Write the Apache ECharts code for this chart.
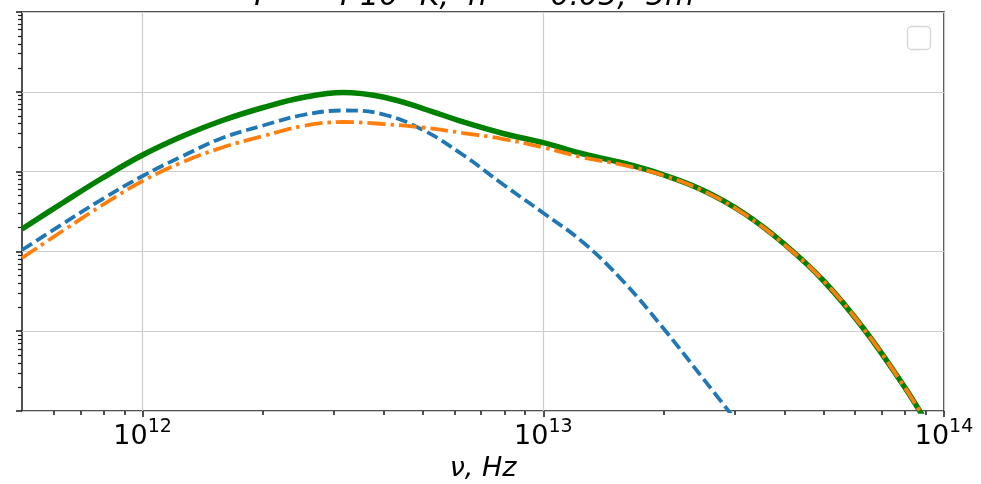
<!DOCTYPE html>
<html>
<head>
<meta charset="utf-8">
<script src="https://cdn.jsdelivr.net/npm/echarts@6/dist/echarts.min.js"></script>
<style>
  html, body { margin: 0; padding: 0; background: #fff; }
  #chart { width: 981px; height: 484px; }
</style>
</head>
<body>
<div id="chart"></div>
<script>
// Frequency grid, Hz
const nu = [5.0e11, 6.31e11, 7.94e11, 1.0e12, 1.26e12, 1.58e12, 2.0e12, 2.51e12,
            3.16e12, 3.98e12, 5.01e12, 6.31e12, 7.94e12, 1.0e13, 1.26e13, 1.58e13,
            2.0e13, 2.51e13, 3.16e13, 3.98e13, 5.01e13, 6.31e13, 7.94e13, 8.91e13];

// Total spectrum (solid green)
const totalFlux = [1.909e-3, 4.043e-3, 8.314e-3, 1.614e-2, 2.793e-2, 4.369e-2, 6.358e-2, 8.483e-2,
                   9.80e-2, 8.605e-2, 6.176e-2, 4.184e-2, 3.002e-2, 2.302e-2, 1.662e-2, 1.282e-2,
                   9.066e-3, 5.798e-3, 3.028e-3, 1.256e-3, 4.257e-4, 1.066e-4, 2.057e-5, 8.17e-6];

// Cold component (dashed blue), first 19 frequencies
const coldFlux = [1.041e-3, 2.205e-3, 4.535e-3, 8.809e-3, 1.568e-2, 2.637e-2, 3.781e-2, 5.121e-2,
                  5.831e-2, 5.224e-2, 3.321e-2, 1.614e-2, 6.891e-3, 3.028e-3, 1.285e-3, 4.257e-4,
                  1.066e-4, 2.518e-5, 5.780e-6];

// Warm component (dash-dot orange)
const warmFlux = [8.267e-4, 1.801e-3, 3.814e-3, 7.624e-3, 1.319e-2, 2.005e-2, 2.793e-2, 3.727e-2,
                  4.184e-2, 3.949e-2, 3.569e-2, 3.045e-2, 2.561e-2, 2.005e-2, 1.502e-2, 1.210e-2,
                  8.935e-3, 5.714e-3, 2.985e-3, 1.238e-3, 4.257e-4, 1.066e-4, 2.057e-5, 8.17e-6];

// Axis ticks
const xMajorTicks = [1e12, 1e13, 1e14];
const xMinorTicks = [6e11, 7e11, 8e11, 9e11,
                     2e12, 3e12, 4e12, 5e12, 6e12, 7e12, 8e12, 9e12,
                     2e13, 3e13, 4e13, 5e13, 6e13, 7e13, 8e13, 9e13];
const yMajorTicks = [1e-5, 1e-4, 1e-3, 1e-2, 1e-1, 1];
const yMinorTicks = [];
yMajorTicks.slice(0, -1).forEach(d => {
  [2, 3, 4, 5, 6, 7, 8, 9].forEach(m => yMinorTicks.push(+(m * d).toPrecision(3)));
});

const pairs = (xs, ys) => ys.map((v, i) => [xs[i], v]);

const FONT = 'DejaVu Sans';
const GRID_COLOR = '#cdcdcd';
const INK = '#1a1a1a';

const chart = echarts.init(document.getElementById('chart'), null, { renderer: 'canvas' });

chart.setOption({
  animation: false,
  backgroundColor: '#ffffff',
  grid: {
    left: 22, top: 12, width: 922, height: 399,
    outerBoundsMode: 'none', containLabel: false,
    show: true, borderColor: INK, borderWidth: 1.5, backgroundColor: 'transparent'
  },
  xAxis: [
    {
      type: 'log', logBase: 10, min: 5e11, max: 1e14,
      axisLine: { show: false },
      axisTick: { show: true, customValues: xMajorTicks, length: 6, lineStyle: { color: INK, width: 1.5 } },
      axisLabel: {
        customValues: xMajorTicks, margin: 7,
        formatter: v => '{b|10}{s|' + Math.round(Math.log10(v)) + '}',
        rich: {
          b: { fontFamily: FONT, fontSize: 27, color: '#000', lineHeight: 32, verticalAlign: 'bottom' },
          s: { fontFamily: FONT, fontSize: 19, color: '#000', lineHeight: 19, verticalAlign: 'top' }
        }
      },
      splitLine: { show: true, lineStyle: { color: GRID_COLOR, width: 1.2 } },
      name: 'ν, Hz', nameLocation: 'middle', nameGap: 44,
      nameTextStyle: { fontFamily: FONT, fontStyle: 'italic', fontSize: 27, color: '#000' }
    },
    {
      type: 'log', logBase: 10, min: 5e11, max: 1e14, position: 'bottom',
      axisLine: { show: false },
      axisTick: { show: true, customValues: xMinorTicks, length: 4, lineStyle: { color: INK, width: 1.5 } },
      axisLabel: { show: false },
      splitLine: { show: false }
    }
  ],
  yAxis: [
    {
      type: 'log', logBase: 10, min: 1e-5, max: 1,
      axisLine: { show: false },
      axisTick: { show: true, customValues: yMajorTicks, length: 6, lineStyle: { color: INK, width: 1.5 } },
      axisLabel: { show: false },
      splitLine: { show: true, lineStyle: { color: GRID_COLOR, width: 1.2 } }
    },
    {
      type: 'log', logBase: 10, min: 1e-5, max: 1, position: 'left',
      axisLine: { show: false },
      axisTick: { show: true, customValues: yMinorTicks, length: 4, lineStyle: { color: INK, width: 1.2 } },
      axisLabel: { show: false },
      splitLine: { show: false }
    }
  ],
  series: [
    {
      name: 'total', type: 'line', data: pairs(nu, totalFlux),
      showSymbol: false, smooth: 0.4, clip: true, z: 2,
      lineStyle: { color: '#008000', width: 5.5 }
    },
    {
      name: 'cold', type: 'line', data: pairs(nu, coldFlux),
      showSymbol: false, smooth: 0.4, clip: true, z: 3,
      lineStyle: { color: '#1f77b4', width: 3.8, type: [12, 5] }
    },
    {
      name: 'warm', type: 'line', data: pairs(nu, warmFlux),
      showSymbol: false, smooth: 0.4, clip: true, z: 4,
      lineStyle: { color: '#ff7f0e', width: 3.8, type: [18, 5, 3.5, 5] }
    }
  ],
  graphic: [
    {
      type: 'text', x: 472, y: 12, silent: true,
      style: {
        text: 'T  =  4·10⁷ K,  n  =  0.05,  5m',
        font: 'italic 30px "DejaVu Sans"', fill: '#000',
        align: 'center', verticalAlign: 'bottom'
      }
    },
    {
      type: 'rect', silent: true, z: 10,
      shape: { x: 907.5, y: 26.5, width: 23, height: 23, r: 4 },
      style: { fill: '#ffffff', stroke: '#d6d6d6', lineWidth: 1.3 }
    }
  ]
});
</script>
</body>
</html>
